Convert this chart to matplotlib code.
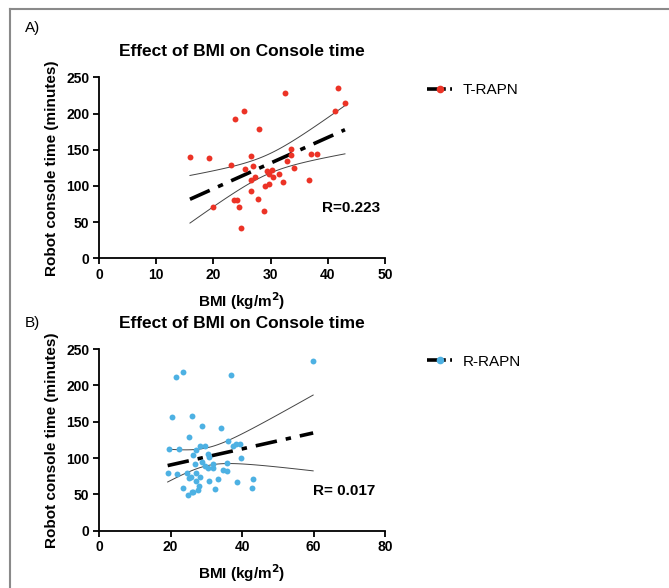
import matplotlib.pyplot as plt
import numpy as np
from matplotlib.lines import Line2D

plt.rcParams['font.family'] = ['Liberation Sans', 'DejaVu Sans']

# A) T-RAPN: BMI vs robot console time
bmi_t = [15.9, 19.3, 20.0, 23.1, 23.7, 25.3, 23.6, 24.1, 24.5, 24.8, 25.6, 26.5, 27.0,
         27.2, 26.5, 26.6, 28.0, 27.8, 28.9, 29.0, 29.4, 29.7, 29.8, 30.2, 30.4, 31.4,
         32.1, 32.5, 32.9, 33.6, 33.6, 34.1, 36.7, 37.1, 38.1, 41.2, 41.8, 43.0]
time_t = [140, 138, 71, 129, 192, 203, 81, 81, 71, 42, 123, 142, 128,
          112, 108, 93, 179, 82, 66, 100, 120, 116, 103, 122, 112, 117,
          106, 229, 135, 151, 143, 125, 108, 144, 144, 204, 235, 215]

# B) R-RAPN
bmi_r = [59.9, 21.6, 23.4, 36.9, 20.4, 25.9, 28.9, 34.2, 25.1, 19.6, 22.5, 36.1, 38.2,
         39.3, 37.5, 28.2, 29.7, 27.1, 30.4, 26.4, 30.8, 39.6, 28.9, 26.9, 29.7, 32.0,
         30.6, 31.8, 35.8, 34.7, 35.7, 19.2, 21.7, 24.7, 27.1, 25.8, 25.3, 27.1, 28.2,
         30.7, 33.3, 38.6, 43.0, 23.4, 28.1, 27.8, 32.4, 25.9, 26.4, 24.8, 42.8]
time_r = [234, 212, 218, 214, 156, 158, 144, 141, 129, 113, 113, 123, 120,
          120, 116, 116, 116, 111, 106, 104, 101, 100, 94, 92, 89, 92,
          86, 86, 93, 83, 82, 80, 78, 79, 80, 74, 73, 69, 74,
          69, 71, 67, 71, 59, 62, 56, 57, 53, 53, 49, 59]

red = '#EC3326'
blue = '#4DB1E3'


def fit_ci(x, y, t=2.02):
    x = np.array(x)
    y = np.array(y)
    n = len(x)
    b, a = np.polyfit(x, y, 1)
    resid = y - (a + b * x)
    s = np.sqrt(np.sum(resid ** 2) / (n - 2))
    xs = np.linspace(x.min(), x.max(), 100)
    ys = a + b * xs
    se = s * np.sqrt(1 / n + (xs - x.mean()) ** 2 / np.sum((x - x.mean()) ** 2))
    return xs, ys, ys - t * se, ys + t * se


def panel(ax, x, y, color, xmax, xticks, label, rtext, rpos):
    xs, ys, lo, hi = fit_ci(x, y)
    ax.plot(xs, hi, color='#444444', lw=0.7)
    ax.plot(xs, lo, color='#444444', lw=0.7)
    ax.plot(xs, ys, color='black', lw=2.6, ls=(0, (6, 2.5, 1.5, 2.5)))
    ax.scatter(x, y, s=18, color=color, zorder=3, linewidths=0)
    ax.set_xlim(0, xmax)
    ax.set_ylim(0, 250)
    ax.set_xticks(xticks)
    ax.set_yticks([0, 50, 100, 150, 200, 250])
    for s in ['top', 'right']:
        ax.spines[s].set_visible(False)
    for s in ['left', 'bottom']:
        ax.spines[s].set_linewidth(1.3)
    ax.tick_params(width=1.3, length=4, labelsize=10, pad=3)
    for lab in ax.get_xticklabels() + ax.get_yticklabels():
        lab.set_fontweight('bold')
    ax.set_title('Effect of BMI on Console time', fontsize=12.5, fontweight='bold', pad=15)
    ax.set_xlabel('BMI (kg/m$^\\mathbf{2}$)', fontsize=11, fontweight='bold', labelpad=6)
    ax.set_ylabel('Robot console time (minutes)', fontsize=11, fontweight='bold', labelpad=5)
    ax.text(rpos[0], rpos[1], rtext, fontsize=11, fontweight='bold', va='center')
    h = Line2D([], [], color='black', lw=2.6, ls=(0, (3, 1.2, 1, 1.2)), marker='o',
               markersize=4.5, markerfacecolor=color, markeredgecolor=color)
    ax.legend([h], [label], loc='upper left', bbox_to_anchor=(1.1, 1.045), frameon=False,
              fontsize=11, handlelength=1.6, handletextpad=0.7)


fig = plt.figure(figsize=(6.69, 5.88), dpi=100)
ax1 = fig.add_axes([0.148, 0.5607, 0.4275, 0.3078])
ax2 = fig.add_axes([0.148, 0.0974, 0.4275, 0.309])

panel(ax1, bmi_t, time_t, red, 50, [0, 10, 20, 30, 40, 50], 'T-RAPN', 'R=0.223', (39, 69))
panel(ax2, bmi_r, time_r, blue, 80, [0, 20, 40, 60, 80], 'R-RAPN', 'R= 0.017', (59.9, 55))

fig.text(25 / 669, 1 - 28 / 588, 'A)', fontsize=11, va='center')
fig.text(25 / 669, 1 - 323 / 588, 'B)', fontsize=11, va='center')

# gray frame at top and left
fig.add_artist(Line2D([10 / 669, 10 / 669], [0, 1 - 9 / 588], color='#8a8a8a', lw=1.5))
fig.add_artist(Line2D([10 / 669, 1], [1 - 9 / 588, 1 - 9 / 588], color='#8a8a8a', lw=1.5))

fig.savefig('out.png', dpi=100)
